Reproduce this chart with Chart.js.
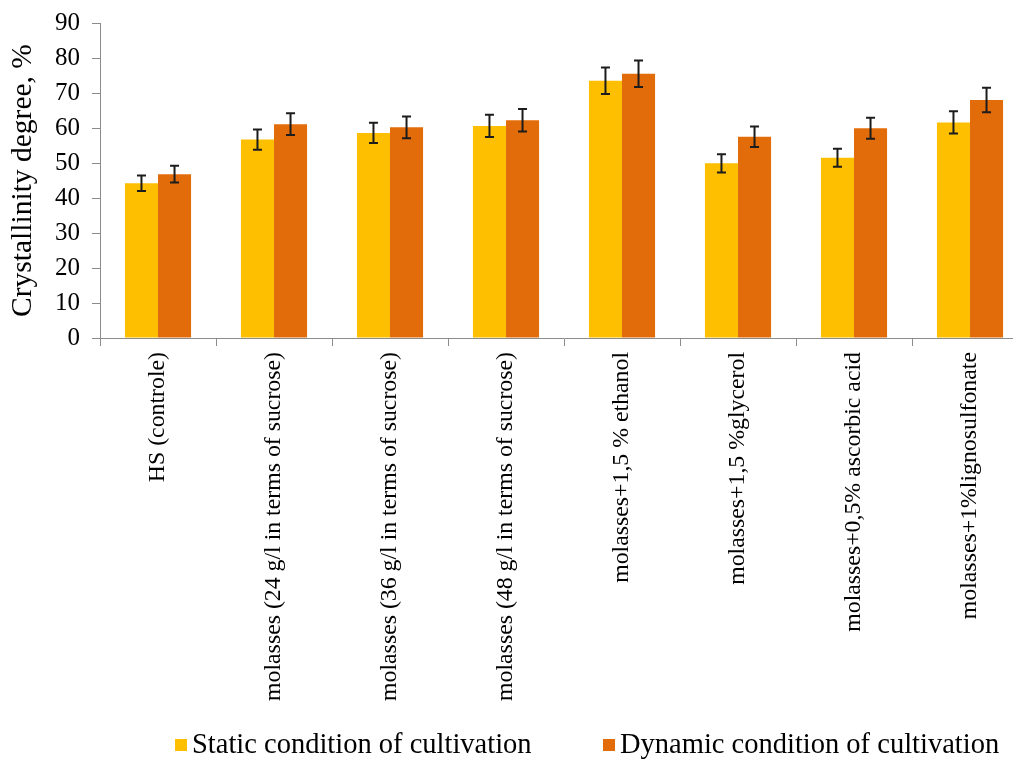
<!DOCTYPE html>
<html>
<head>
<meta charset="utf-8">
<script src="https://cdn.jsdelivr.net/npm/chart.js@4.4.1/dist/chart.umd.min.js"></script>
<style>
  html, body { margin: 0; padding: 0; background: #ffffff; overflow: hidden; }
  #wrap { width: 1030px; height: 761px; }
</style>
</head>
<body>
<div id="wrap"><canvas id="chart" width="1030" height="761"></canvas></div>
<script>
// Crystallinity degree of bacterial cellulose under different media
const categories = [
  'HS (controle)',
  'molasses (24 g/l in terms of sucrose)',
  'molasses (36 g/l in terms of sucrose)',
  'molasses (48 g/l in terms of sucrose)',
  'molasses+1,5 % ethanol',
  'molasses+1,5 %glycerol',
  'molasses+0,5% ascorbic acid',
  'molasses+1%lignosulfonate'
];
const staticValues  = [44.2, 56.7, 58.6, 60.6, 73.5, 49.9, 51.5, 61.6];
const staticErrors  = [2.2, 2.9, 2.9, 3.2, 3.8, 2.6, 2.6, 3.2];
const dynamicValues = [46.8, 61.1, 60.2, 62.2, 75.5, 57.5, 59.9, 68.0];
const dynamicErrors = [2.4, 3.1, 3.1, 3.2, 3.8, 2.9, 3.0, 3.5];
const yTicks = [0, 10, 20, 30, 40, 50, 60, 70, 80, 90];

const FONT = "'Liberation Serif', 'Times New Roman', serif";
const AXIS_GRAY = '#8c8c8c';

// Vertical error bars with caps, placed through the value scale
const errorBars = {
  id: 'errorBars',
  afterDatasetsDraw(chart) {
    const ctx = chart.ctx;
    const y = chart.scales.y;
    ctx.save();
    ctx.strokeStyle = '#1c1c1c';
    ctx.lineWidth = 2;
    chart.data.datasets.forEach((ds, i) => {
      const meta = chart.getDatasetMeta(i);
      meta.data.forEach((bar, j) => {
        const v = ds.data[j], e = ds.errors[j];
        const top = y.getPixelForValue(v + e);
        const bot = y.getPixelForValue(v - e);
        const x = bar.x, cap = 4.5;
        ctx.beginPath();
        ctx.moveTo(x, top); ctx.lineTo(x, bot);
        ctx.moveTo(x - cap, top); ctx.lineTo(x + cap, top);
        ctx.moveTo(x - cap, bot); ctx.lineTo(x + cap, bot);
        ctx.stroke();
      });
    });
    ctx.restore();
  }
};

// Legend row under the category labels
const bottomLegend = {
  id: 'bottomLegend',
  afterDraw(chart, args, opts) {
    const ctx = chart.ctx;
    ctx.save();
    ctx.font = opts.fontSize + 'px ' + FONT;
    ctx.textBaseline = 'middle';
    ctx.textAlign = 'left';
    chart.data.datasets.forEach((ds, i) => {
      const bx = opts.items[i];
      ctx.fillStyle = ds.backgroundColor;
      ctx.fillRect(bx, opts.y - opts.box / 2, opts.box, opts.box);
      ctx.fillStyle = '#000000';
      ctx.fillText(ds.label, bx + opts.box + opts.gap, opts.y + 1);
    });
    ctx.restore();
  }
};

new Chart(document.getElementById('chart'), {
  type: 'bar',
  data: {
    labels: categories,
    datasets: [
      {
        label: 'Static condition of cultivation',
        data: staticValues,
        errors: staticErrors,
        backgroundColor: '#FDBF00'
      },
      {
        label: 'Dynamic condition of cultivation',
        data: dynamicValues,
        errors: dynamicErrors,
        backgroundColor: '#E36C0A'
      }
    ]
  },
  options: {
    responsive: false,
    animation: false,
    events: [],
    categoryPercentage: 0.57,
    barPercentage: 1.0,
    layout: { padding: { top: 0, left: 6, right: 2, bottom: 48 } },
    plugins: {
      legend: { display: false },
      tooltip: { enabled: false },
      bottomLegend: { y: 745, items: [175, 603], box: 12, gap: 5, fontSize: 28.5 }
    },
    scales: {
      x: {
        grid: {
          display: true,
          drawOnChartArea: false,
          drawTicks: true,
          tickLength: 8,
          color: AXIS_GRAY,
          offset: true
        },
        border: { display: true, color: AXIS_GRAY, width: 1 },
        ticks: {
          autoSkip: false,
          minRotation: 90,
          maxRotation: 90,
          padding: 6,
          color: '#000000',
          font: { family: FONT, size: 23.8 }
        },
        afterFit(scale) { scale.height = 375; }
      },
      y: {
        min: 0,
        max: 90,
        afterBuildTicks(scale) { scale.ticks = yTicks.map(v => ({ value: v })); },
        grid: {
          display: true,
          drawOnChartArea: false,
          drawTicks: true,
          tickLength: 8,
          color: AXIS_GRAY
        },
        border: { display: true, color: AXIS_GRAY, width: 1 },
        ticks: {
          padding: 12,
          color: '#000000',
          font: { family: FONT, size: 25, lineHeight: 0.88 }
        },
        title: {
          display: true,
          text: 'Crystallinity degree, %',
          color: '#000000',
          font: { family: FONT, size: 29.5 },
          padding: { top: 0, bottom: 0 }
        },
        afterFit(scale) { scale.width = 94; }
      }
    }
  },
  plugins: [errorBars, bottomLegend]
});
</script>
</body>
</html>
